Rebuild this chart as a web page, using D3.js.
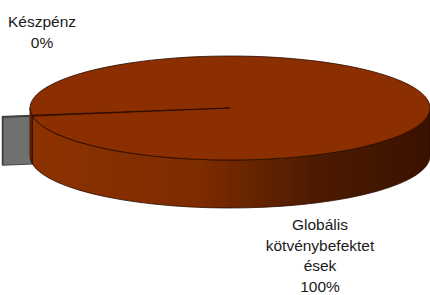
<!DOCTYPE html>
<html>
<head>
<meta charset="utf-8">
<script src="https://cdn.jsdelivr.net/npm/d3@7"></script>
<style>
  body { margin: 0; background: #fff; }
  text { font-family: "Liberation Sans", Arial, sans-serif; font-size: 15.5px; fill: #1a1a1a; }
</style>
</head>
<body>
<div id="chart"></div>
<script>
var svgWidth = 430;
var svgHeight = 295;

// data
var categories = ["Készpénz", "Globális kötvénybefektetések"];
var values = [0.3, 99.7];
var labelLines = [["Készpénz"], ["Globális", "kötvénybefektet", "ések"]];
var topColors = ["#747474", "#8b2f00"];

// 3d pie geometry
var cx = 230, cy = 108, rx = 200, ry = 52, depth = 48;
var explode = [0.15, 0];

var svg = d3.select("#chart")
  .append("svg")
  .attr("width", svgWidth)
  .attr("height", svgHeight);

var defs = svg.append("defs");
var grad = defs.append("linearGradient")
  .attr("id", "sideGrad")
  .attr("gradientUnits", "userSpaceOnUse")
  .attr("x1", 30).attr("x2", 430).attr("y1", 0).attr("y2", 0);
grad.append("stop").attr("offset", 0).attr("stop-color", "#8d3200");
grad.append("stop").attr("offset", 0.42).attr("stop-color", "#7d2c00");
grad.append("stop").attr("offset", 0.72).attr("stop-color", "#4c1a00");
grad.append("stop").attr("offset", 1).attr("stop-color", "#3a1200");

var pie = d3.pie()
  .sort(null)
  .startAngle(261 * Math.PI / 180)
  .endAngle(261 * Math.PI / 180 + 2 * Math.PI);

var arcs = pie(values);

// d3 pie angle (clockwise from 12 o'clock) -> ellipse parameter
function toT(a) { return a - Math.PI / 2; }

function pt(c, t, h) {
  return [c[0] + rx * Math.cos(t), c[1] + ry * Math.sin(t) + (h || 0)];
}

function topPath(c, t0, t1) {
  var p0 = pt(c, t0), p1 = pt(c, t1);
  var large = (t1 - t0) > Math.PI ? 1 : 0;
  return "M" + c[0] + "," + c[1] + "L" + p0 + "A" + rx + "," + ry + " 0 " + large + " 1 " + p1 + "Z";
}

function wallPath(c, u0, u1) {
  var p0 = pt(c, u0), p1 = pt(c, u1), q1 = pt(c, u1, depth), q0 = pt(c, u0, depth);
  return "M" + p0 + "A" + rx + "," + ry + " 0 0 1 " + p1 + "L" + q1 +
    "A" + rx + "," + ry + " 0 0 0 " + q0 + "Z";
}

function facePath(c, t) {
  var p = pt(c, t);
  return "M" + c[0] + "," + c[1] + "L" + p + "L" + [p[0], p[1] + depth] +
    "L" + [c[0], c[1] + depth] + "Z";
}

// visible part of the outer wall: parameter range inside [0, PI] (mod 2PI)
function wallRanges(t0, t1) {
  var out = [];
  for (var k = -2; k <= 2; k++) {
    var lo = Math.max(t0, k * 2 * Math.PI), hi = Math.min(t1, k * 2 * Math.PI + Math.PI);
    if (hi > lo) out.push([lo - k * 2 * Math.PI, hi - k * 2 * Math.PI]);
  }
  return out;
}

// draw the small exploded slice first (it sits behind), then the big one
var order = [0, 1];
order.forEach(function(i) {
  var d = arcs[i];
  var t0 = toT(d.startAngle), t1 = toT(d.endAngle), tm = (t0 + t1) / 2;
  var c = [cx + explode[i] * rx * Math.cos(tm), cy + explode[i] * ry * Math.sin(tm)];
  var g = svg.append("g").attr("class", "slice");
  var stroke = i === 0 ? "#2e2e2e" : "#2a0a00";
  var sideFill = i === 0 ? "#6e6e6e" : "url(#sideGrad)";

  // radial faces facing the viewer
  [[t0, Math.sin(t0)], [t1, -Math.sin(t1)]].forEach(function(f) {
    if (f[1] > 0) {
      g.append("path").attr("d", facePath(c, f[0]))
        .attr("fill", i === 0 ? "#707070" : "#7a2a00")
        .attr("stroke", stroke).attr("stroke-width", 0.8);
    }
  });

  wallRanges(t0, t1).forEach(function(r) {
    g.append("path").attr("d", wallPath(c, r[0], r[1]))
      .attr("fill", sideFill)
      .attr("stroke", stroke).attr("stroke-width", 0.8);
  });

  g.append("path").attr("d", topPath(c, t0, t1))
    .attr("fill", topColors[i])
    .attr("stroke", stroke).attr("stroke-width", 0.8);
});

// labels
var pct = d3.format(".0%");
var total = d3.sum(values);
var labelPos = [[42, 27], [320, 230]];
var lineGap = 20.5;

categories.forEach(function(name, i) {
  var lines = labelLines[i].concat([pct(values[i] / total)]);
  var t = svg.append("text")
    .attr("text-anchor", "middle")
    .attr("x", labelPos[i][0])
    .attr("y", labelPos[i][1]);
  t.selectAll("tspan")
    .data(lines)
    .enter()
    .append("tspan")
    .attr("x", labelPos[i][0])
    .attr("dy", function(d, j) { return j === 0 ? 0 : lineGap; })
    .text(function(d) { return d; });
});
</script>
</body>
</html>
